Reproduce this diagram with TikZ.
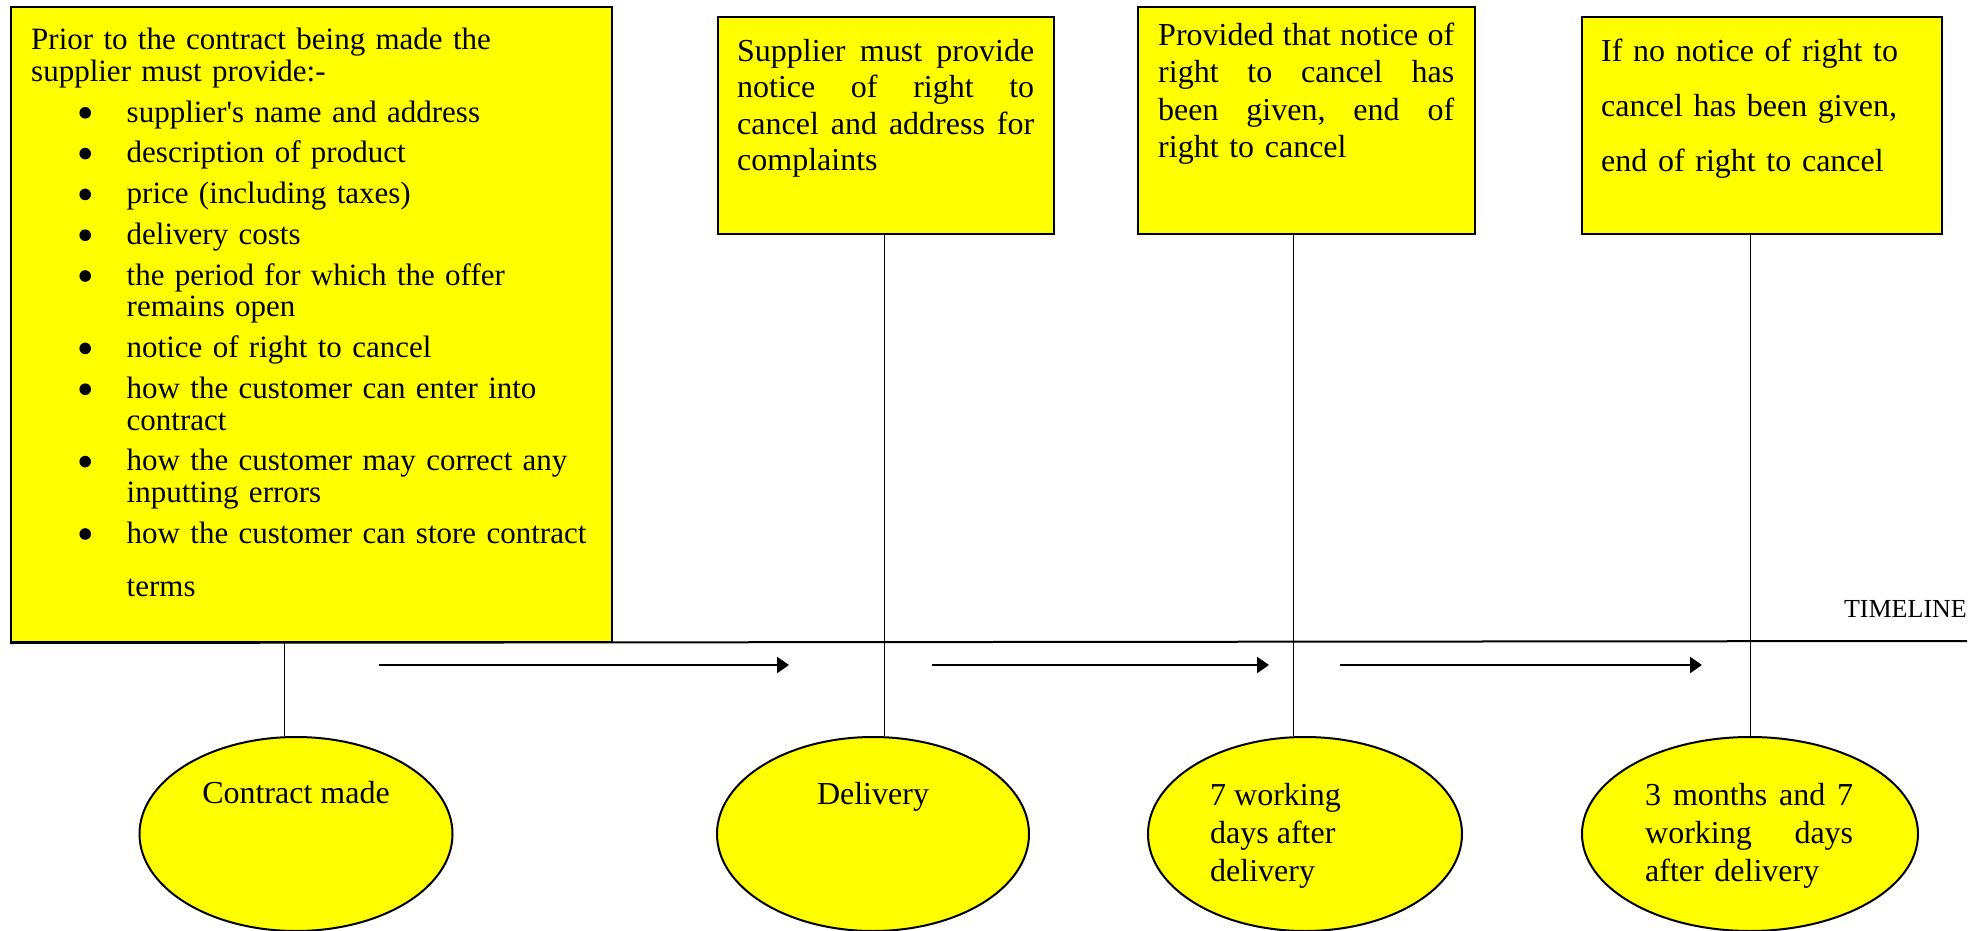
\documentclass[tikz,border=0pt]{standalone}
\usepackage{fontspec}
\setmainfont{Liberation Serif}
\usetikzlibrary{shapes.geometric,arrows.meta}
\definecolor{ylw}{RGB}{255,255,0}
\newcommand{\bigbul}{\tikz[x=1pt,y=1pt,baseline=0pt]{\useasboundingbox (0,0) rectangle (12,12);\fill (6,9.3) circle[radius=5.8];}}
\newcommand{\bitem}[1]{\par\hangindent=95.5pt\hangafter=1\noindent\hspace*{48pt}\makebox[47.5pt][l]{\bigbul}#1\par}
\newcommand{\jline}[2]{\noindent\hbox to #1{#2}\par}
\begin{document}
\begin{tikzpicture}[x=1pt,y=-1pt,
  box/.style={draw=black,line width=2pt,fill=ylw,inner sep=0pt,anchor=north west},
  ell/.style={ellipse,draw=black,line width=2pt,fill=ylw,inner sep=0pt,minimum height=194pt},
  txt/.style={inner sep=0pt,anchor=north west,font=\fontsize{32}{36.3}\selectfont},
  conn/.style={draw=black,line width=1pt},
  arr/.style={draw=black,line width=2.6pt,-{Triangle[length=12pt,width=16pt]}}]
\useasboundingbox (0,0) rectangle (1982,931);
% boxes
\node[box,minimum width=601pt,minimum height=635pt] (bigbox) at (10,6) {};
\node[box,minimum width=336pt,minimum height=217pt] (box2) at (717,16) {};
\node[box,minimum width=337pt,minimum height=227pt] (box3) at (1137,6) {};
\node[box,minimum width=360pt,minimum height=217pt] (box4) at (1581,16) {};
% ellipses
\node[ell,minimum width=313pt] (ell1) at (296,834) {};
\node[ell,minimum width=312pt] (ell2) at (873,834) {};
\node[ell,minimum width=314pt] (ell3) at (1305,834) {};
\node[ell,minimum width=336pt] (ell4) at (1750,834) {};
% timeline
\coordinate (tlend) at (1967,641);
\draw[line width=2pt] (bigbox.south west) -- (tlend);
\node[inner sep=0pt,anchor=base east,font=\fontsize{26}{30}\selectfont] (tl) at (1967,617) {TIMELINE};
% box texts
\node[txt,text width=575pt,font=\fontsize{31}{31.6}\selectfont] (t1) at (31,28) {\noindent Prior to the contract being made the\newline supplier must provide:-\setlength{\parskip}{9.2pt}\par
\bitem{supplier\textquotesingle s name and address}
\bitem{description of product}
\bitem{price (including taxes)}
\bitem{delivery costs}
\bitem{the period for which the offer\newline remains open}
\bitem{notice of right to cancel}
\bitem{how the customer can enter into\newline contract}
\bitem{how the customer may correct any\newline inputting errors}
\bitem{how the customer can store contract\vspace{22pt}\newline terms}
};
\node[txt,text width=297pt] (t2) at (737,39) {\jline{297pt}{Supplier\hfill must\hfill provide}\jline{297pt}{notice\hfill of\hfill right\hfill to}\jline{297pt}{cancel\hfill and\hfill address\hfill for}\jline{297pt}{complaints\hfill}};
\node[txt,text width=296pt,font=\fontsize{32}{37.5}\selectfont] (t3) at (1158,22.5) {\jline{296pt}{Provided\hfill that\hfill notice\hfill of}\jline{296pt}{right\hfill to\hfill cancel\hfill has}\jline{296pt}{been\hfill given,\hfill end\hfill of}\jline{296pt}{right to cancel\hfill}};
\node[txt,text width=330pt,font=\fontsize{32}{55}\selectfont] (t4) at (1601,39) {If no notice of right to\\cancel has been given,\\end of right to cancel};
% ellipse texts
\node[inner sep=0pt,anchor=base,font=\fontsize{32}{37}\selectfont] (e1t) at (296,803) {Contract made};
\node[inner sep=0pt,anchor=base,font=\fontsize{32}{37}\selectfont] (e2t) at (873,804) {Delivery};
\node[txt,align=left,font=\fontsize{32}{38}\selectfont] (e3t) at (1210,783) {7 working\\days after\\delivery};
\node[txt,text width=208pt,font=\fontsize{32}{38}\selectfont] (e4t) at (1645,783) {\jline{208pt}{3\hfill months\hfill and\hfill 7}\jline{208pt}{working\hfill days}\jline{208pt}{after delivery\hfill}};
% connectors
\draw[conn] ([xshift=-12pt]ell1.north) -- ([xshift=-12pt]ell1.north |- bigbox.south);
\draw[conn] ([xshift=11pt]ell2.north) -- ([xshift=11pt]ell2.north |- box2.south);
\draw[conn] ([xshift=-12pt]ell3.north) -- ([xshift=-12pt]ell3.north |- box3.south);
\draw[conn] (ell4.north) -- (ell4.north |- box4.south);
% arrows
\coordinate (a1s) at (379,665); \coordinate (a1e) at (789,665);
\coordinate (a2s) at (932,665); \coordinate (a2e) at (1269,665);
\coordinate (a3s) at (1340,665); \coordinate (a3e) at (1702,665);
\draw[arr] (a1s) -- (a1e);
\draw[arr] (a2s) -- (a2e);
\draw[arr] (a3s) -- (a3e);
\end{tikzpicture}
\end{document}
